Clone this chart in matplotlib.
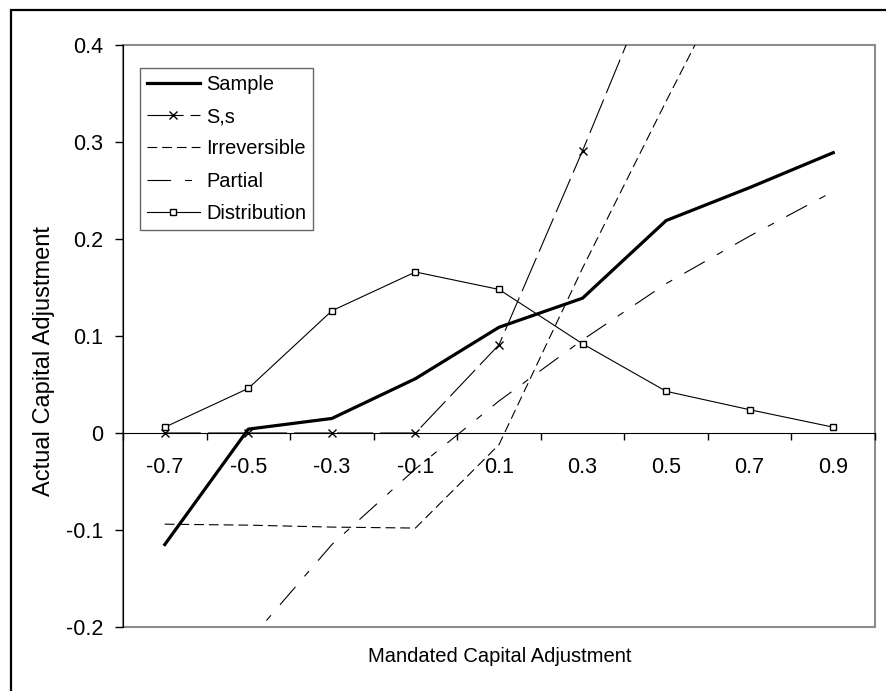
import matplotlib
matplotlib.use('Agg')
import matplotlib.pyplot as plt
from matplotlib.patches import Rectangle

# Fonts close to the Arial look of the original
plt.rcParams['font.family'] = ['Liberation Sans', 'DejaVu Sans']
plt.rcParams['lines.scale_dashes'] = False

# Data
categories   = ['-0.7', '-0.5', '-0.3', '-0.1', '0.1', '0.3', '0.5', '0.7', '0.9']
sample       = [-0.115, 0.004, 0.015, 0.056, 0.109, 0.139, 0.219, 0.253, 0.289]
ss           = [0.0, 0.0, 0.0, 0.0, 0.091, 0.291, 0.50, 0.70, 0.90]
irreversible = [-0.094, -0.095, -0.097, -0.098, -0.012, 0.170, 0.342, 0.51, 0.68]
partial      = [-0.31, -0.215, -0.115, -0.037, 0.033, 0.096, 0.154, 0.203, 0.249]
distribution = [0.006, 0.046, 0.126, 0.166, 0.148, 0.092, 0.043, 0.024, 0.006]
yticks       = [-0.2, -0.1, 0, 0.1, 0.2, 0.3, 0.4]
ytick_labels = ['-0.2', '-0.1', '0', '0.1', '0.2', '0.3', '0.4']

x = list(range(len(categories)))

fig = plt.figure(figsize=(8.87, 6.91), dpi=100)
ax = fig.add_axes([123/887, 64/691, 752/887, 582/691])

# Lines
ax.plot(x, sample, color='black', lw=2.3, label='Sample', zorder=5)
ax.plot(x, ss, color='black', lw=0.8, linestyle=(0, (26, 5)),
        marker='x', markersize=5.5, mew=1, label='S,s', zorder=4)
ax.plot(x, irreversible, color='black', lw=0.8, linestyle=(0, (7, 3.6)),
        label='Irreversible', zorder=4)
ax.plot(x, partial, color='black', lw=0.8, linestyle=(0, (17, 10, 5, 10)),
        label='Partial', zorder=4)
ax.plot(x, distribution, color='black', lw=0.8, marker='s', markersize=5,
        mfc='white', mec='black', mew=1, label='Distribution', zorder=4)

# Axes limits and ticks
ax.set_xlim(-0.5, len(categories) - 0.5)
ax.set_ylim(yticks[0], yticks[-1])
ax.set_yticks(yticks)
ax.set_yticklabels(ytick_labels, fontsize=15.5)
ax.tick_params(axis='y', direction='out', length=5.8, width=1, pad=8.5)

# category axis crossing at zero, ticks between categories
ax.spines['bottom'].set_position(('data', 0))
ax.spines['bottom'].set_color('black')
ax.spines['left'].set_color('black')
ax.spines['top'].set_visible(False)
ax.spines['right'].set_visible(False)
ax.set_xticks([i - 0.5 for i in range(len(categories) + 1)])
ax.set_xticklabels([])
ax.set_xticks(x, minor=True)
ax.set_xticklabels(categories, minor=True, fontsize=15.5)
ax.tick_params(axis='x', which='major', direction='out', length=5, width=1)
ax.tick_params(axis='x', which='minor', length=0, pad=17)

# plot area border
ax.add_patch(Rectangle((0, 0), 1, 1, transform=ax.transAxes, fill=False,
                       edgecolor='#8c8c8c', lw=1.5, clip_on=False, zorder=1))

# Legend
leg = ax.legend(loc='upper left', bbox_to_anchor=(0.0226, 0.9605),
                borderaxespad=0, fontsize=14.4, frameon=True, fancybox=False,
                handlelength=2.65, handletextpad=0.3, borderpad=0.35,
                labelspacing=0.66, numpoints=1)
leg.get_frame().set_edgecolor('#404040')
leg.get_frame().set_linewidth(1)

# Axis titles
fig.text(500/887, 1 - 657/691, 'Mandated Capital Adjustment', fontsize=14.5,
         ha='center', va='center')
fig.text(44/887, 1 - 361/691, 'Actual Capital Adjustment', fontsize=17,
         rotation=90, ha='center', va='center')

# outer chart border (only left and top visible)
fig.add_artist(Rectangle((11/887, -0.2), 1.2, 1.2 - 10/691,
                         transform=fig.transFigure, fill=False,
                         edgecolor='black', lw=1.6))

fig.savefig('out.png', dpi=100)
